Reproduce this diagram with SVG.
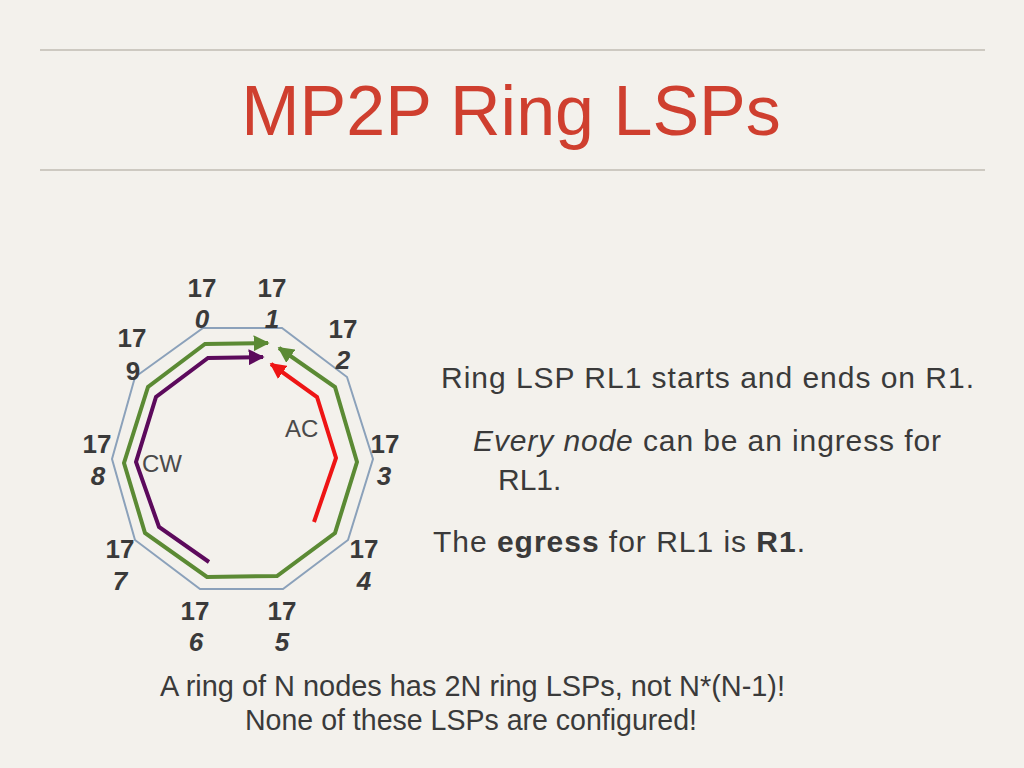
<svg xmlns="http://www.w3.org/2000/svg" width="1024" height="768" viewBox="0 0 1024 768">
<defs>
<style>
.lbl{font-family:"Liberation Sans",Arial,sans-serif;font-size:26px;font-weight:bold;fill:#3a3a3a;text-anchor:middle}
.lbl .d{font-style:italic}
.txt{font-family:"Liberation Sans",Arial,sans-serif;font-size:30px;fill:#3a3a3a}
.dir{font-family:"Liberation Sans",Arial,sans-serif;font-size:24px;fill:#4a4a4a}
.rule{stroke:#cdc9c1;stroke-width:2}
.lsp{fill:none;stroke-width:4;stroke-linejoin:miter}
</style>
<marker id="agreen" viewBox="0 0 10 10" refX="9" refY="5" markerWidth="4" markerHeight="4" orient="auto-start-reverse" markerUnits="strokeWidth"><path d="M0,0 L10,5 L0,10 z" fill="#5b8a34"/></marker>
<marker id="apurple" viewBox="0 0 10 10" refX="9" refY="5" markerWidth="4" markerHeight="4" orient="auto" markerUnits="strokeWidth"><path d="M0,0 L10,5 L0,10 z" fill="#5c0a5c"/></marker>
<marker id="ared" viewBox="0 0 10 10" refX="9" refY="5" markerWidth="4" markerHeight="4" orient="auto" markerUnits="strokeWidth"><path d="M0,0 L10,5 L0,10 z" fill="#ee1515"/></marker>
</defs>
<rect width="1024" height="768" fill="#f3f1ec"/>
<line class="rule" x1="40" y1="50" x2="985" y2="50"/>
<line class="rule" x1="40" y1="170" x2="985" y2="170"/>
<text x="511" y="135" text-anchor="middle" font-family="'Liberation Sans',Arial,sans-serif" font-size="70" fill="#cf3f2f">MP2P Ring LSPs</text>

<g id="ring">
<polygon points="203,328 282,328 347,377 373,459 348,540 283,589 200,589 135,540 112,459 135,377" fill="none" stroke="#8ba1ba" stroke-width="2"/>
</g>

<g id="connectors">
<polyline class="lsp" stroke="#5b8a34" marker-start="url(#agreen)" marker-end="url(#agreen)" points="268,343 205,344 148,387 124,463 145,533 207,577 277,576 335,533 357,462 335,387 279,348"/>
<polyline class="lsp" stroke="#5c0a5c" marker-end="url(#apurple)" points="209,562 159,527 136,462 156,397 208,358 263,357"/>
<polyline class="lsp" stroke="#ee1515" marker-end="url(#ared)" points="314,522 336,458 317,397 271,364"/>
</g>

<g id="node0"><text class="lbl" x="202" y="297">17</text><text class="lbl" x="202" y="328"><tspan class="d">0</tspan></text></g>
<g id="node1"><text class="lbl" x="272" y="297">17</text><text class="lbl" x="272" y="328"><tspan class="d">1</tspan></text></g>
<g id="node2"><text class="lbl" x="343" y="338">17</text><text class="lbl" x="343" y="369"><tspan class="d">2</tspan></text></g>
<g id="node3"><text class="lbl" x="385" y="453">17</text><text class="lbl" x="384" y="485"><tspan class="d">3</tspan></text></g>
<g id="node4"><text class="lbl" x="364" y="558">17</text><text class="lbl" x="364" y="590"><tspan class="d">4</tspan></text></g>
<g id="node5"><text class="lbl" x="282" y="620">17</text><text class="lbl" x="282" y="651"><tspan class="d">5</tspan></text></g>
<g id="node6"><text class="lbl" x="195" y="620">17</text><text class="lbl" x="196" y="651"><tspan class="d">6</tspan></text></g>
<g id="node7"><text class="lbl" x="120" y="558">17</text><text class="lbl" x="120" y="590"><tspan class="d">7</tspan></text></g>
<g id="node8"><text class="lbl" x="97" y="453">17</text><text class="lbl" x="98" y="485"><tspan class="d">8</tspan></text></g>
<g id="node9"><text class="lbl" x="132" y="347">17</text><text class="lbl" x="133" y="380">9</text></g>

<text class="dir" x="285" y="437">AC</text>
<text class="dir" x="142" y="472">CW</text>

<text class="txt" x="441" y="388" textLength="533">Ring LSP RL1 starts and ends on R1.</text>
<text class="txt" x="473" y="451" textLength="468"><tspan font-style="italic">Every node</tspan> can be an ingress for</text>
<text class="txt" x="498" y="490">RL1.</text>
<text class="txt" x="433" y="552" textLength="372">The <tspan font-weight="bold">egress</tspan> for RL1 is <tspan font-weight="bold">R1</tspan>.</text>

<text class="txt" x="160" y="696" textLength="625" lengthAdjust="spacingAndGlyphs">A ring of N nodes has 2N ring LSPs, not N*(N-1)!</text>
<text class="txt" x="245" y="730" textLength="452" lengthAdjust="spacingAndGlyphs" fill="#d01010">None of these LSPs are configured!</text>
</svg>
